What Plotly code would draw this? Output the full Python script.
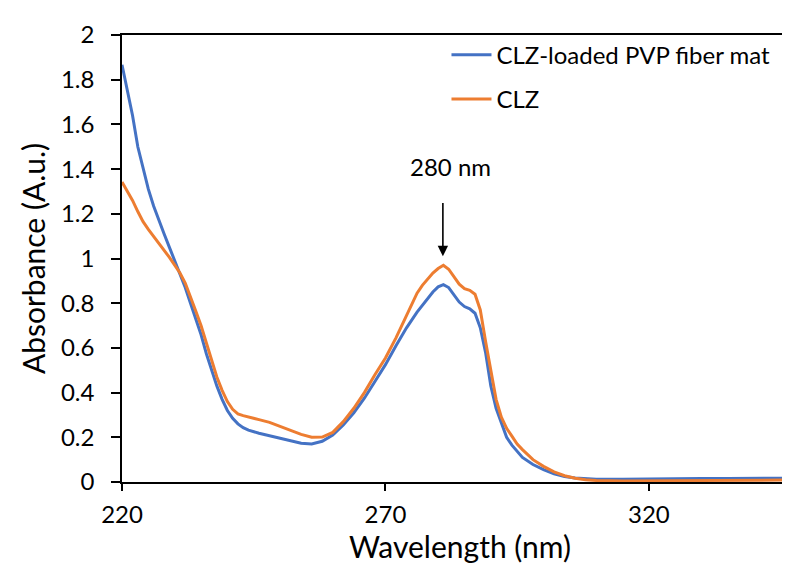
import plotly.graph_objects as go

wavelength = [220, 221, 222, 223, 224, 225, 226, 227, 228, 229, 230, 231, 232, 233, 234, 235,
              236, 237, 238, 239, 240, 241, 242, 243, 244, 246, 248, 250, 252, 254, 256, 258,
              260, 262, 264, 266, 268, 270, 272, 274, 276, 277, 278, 279, 280, 281, 282, 283,
              284, 285, 286, 287, 288, 289, 290, 291, 292, 293, 294, 295, 296, 298, 300, 302,
              304, 306, 308, 310, 315, 320, 325, 330, 335, 340, 345, 349]

fiber_mat = [1.867, 1.76, 1.64, 1.50, 1.40, 1.31, 1.235, 1.17, 1.11, 1.05, 0.99, 0.935, 0.87, 0.80,
             0.735, 0.66, 0.575, 0.50, 0.43, 0.37, 0.32, 0.285, 0.26, 0.243, 0.232, 0.218, 0.207,
             0.195, 0.182, 0.173, 0.17, 0.182, 0.21, 0.255, 0.31, 0.375, 0.45, 0.525, 0.61, 0.69,
             0.76, 0.79, 0.82, 0.85, 0.873, 0.883, 0.87, 0.84, 0.805, 0.785, 0.775, 0.755, 0.69,
             0.58, 0.43, 0.33, 0.26, 0.20, 0.165, 0.135, 0.11, 0.078, 0.055, 0.037, 0.025, 0.018,
             0.014, 0.012, 0.012, 0.014, 0.015, 0.016, 0.016, 0.017, 0.017, 0.017]

clz = [1.342, 1.30, 1.26, 1.21, 1.165, 1.13, 1.10, 1.07, 1.04, 1.005, 0.97, 0.935, 0.89, 0.83,
       0.765, 0.70, 0.62, 0.545, 0.47, 0.41, 0.36, 0.325, 0.305, 0.297, 0.29, 0.279, 0.267, 0.25,
       0.231, 0.213, 0.20, 0.201, 0.222, 0.27, 0.33, 0.40, 0.48, 0.555, 0.645, 0.745, 0.845, 0.88,
       0.91, 0.935, 0.955, 0.97, 0.952, 0.918, 0.885, 0.865, 0.858, 0.84, 0.77, 0.63, 0.49, 0.37,
       0.29, 0.24, 0.205, 0.17, 0.145, 0.10, 0.07, 0.045, 0.028, 0.017, 0.010, 0.007, 0.005,
       0.006, 0.007, 0.008, 0.008, 0.009, 0.009, 0.009]

series_names = ["CLZ-loaded PVP fiber mat", "CLZ"]
series_colors = ["#4472C4", "#ED7D31"]

y_tick_vals = [0, 0.2, 0.4, 0.6, 0.8, 1.0, 1.2, 1.4, 1.6, 1.8, 2.0]
y_tick_text = ["0", "0.2", "0.4", "0.6", "0.8", "1", "1.2", "1.4", "1.6", "1.8", "2"]
x_tick_vals = [220, 270, 320]
x_tick_text = ["220", "270", "320"]

peak_label = "280 nm"
peak_x = 280.9
arrow_tip_y = 1.01
arrow_tail_y = 1.255
label_y = 1.41

FONT = "Lato, 'Open Sans', sans-serif"

fig = go.Figure()
for i, (name, vals) in enumerate(zip(series_names, [fiber_mat, clz])):
    fig.add_trace(go.Scatter(
        x=wavelength, y=vals, mode="lines", name=name,
        line=dict(color=series_colors[i], width=3),
        legendgroup=f"g{i}",
    ))

fig.add_annotation(x=peak_x, y=arrow_tip_y, ax=peak_x, ay=arrow_tail_y,
                   xref="x", yref="y", axref="x", ayref="y",
                   text="", showarrow=True, arrowhead=2, arrowsize=1.3,
                   arrowwidth=1.6, arrowcolor="black")
fig.add_annotation(x=peak_x + 1.4, y=label_y, xref="x", yref="y", text=peak_label,
                   showarrow=False, font=dict(family=FONT, size=24, color="black"))

fig.update_layout(
    width=790, height=570,
    margin=dict(l=114, r=0, t=27, b=96),
    paper_bgcolor="white", plot_bgcolor="white",
    font=dict(family=FONT, size=24, color="black"),
    showlegend=True,
    legend=dict(x=0.48, y=1.005, xanchor="left", yanchor="top",
                bgcolor="rgba(0,0,0,0)", font=dict(size=24),
                tracegroupgap=10, itemwidth=40),
    xaxis=dict(range=[220, 348.3], tickvals=x_tick_vals, ticktext=x_tick_text,
               showgrid=False, zeroline=False, showline=True, linecolor="black",
               linewidth=1.5, mirror=True, ticks="outside", ticklen=7, tickwidth=1.5,
               tickcolor="black", tickfont=dict(size=24), ticklabelstandoff=3,
               title=dict(text="Wavelength (nm)", font=dict(size=30), standoff=10)),
    yaxis=dict(range=[0, 2], tickvals=y_tick_vals, ticktext=y_tick_text,
               showgrid=False, zeroline=False, showline=True, linecolor="black",
               linewidth=1.5, ticks="outside", ticklen=9, tickwidth=1.5,
               tickcolor="black", tickfont=dict(size=24), ticklabelstandoff=12,
               title=dict(text="Absorbance (A.u.)", font=dict(size=30), standoff=6)),
)

fig.write_html("out.html")
